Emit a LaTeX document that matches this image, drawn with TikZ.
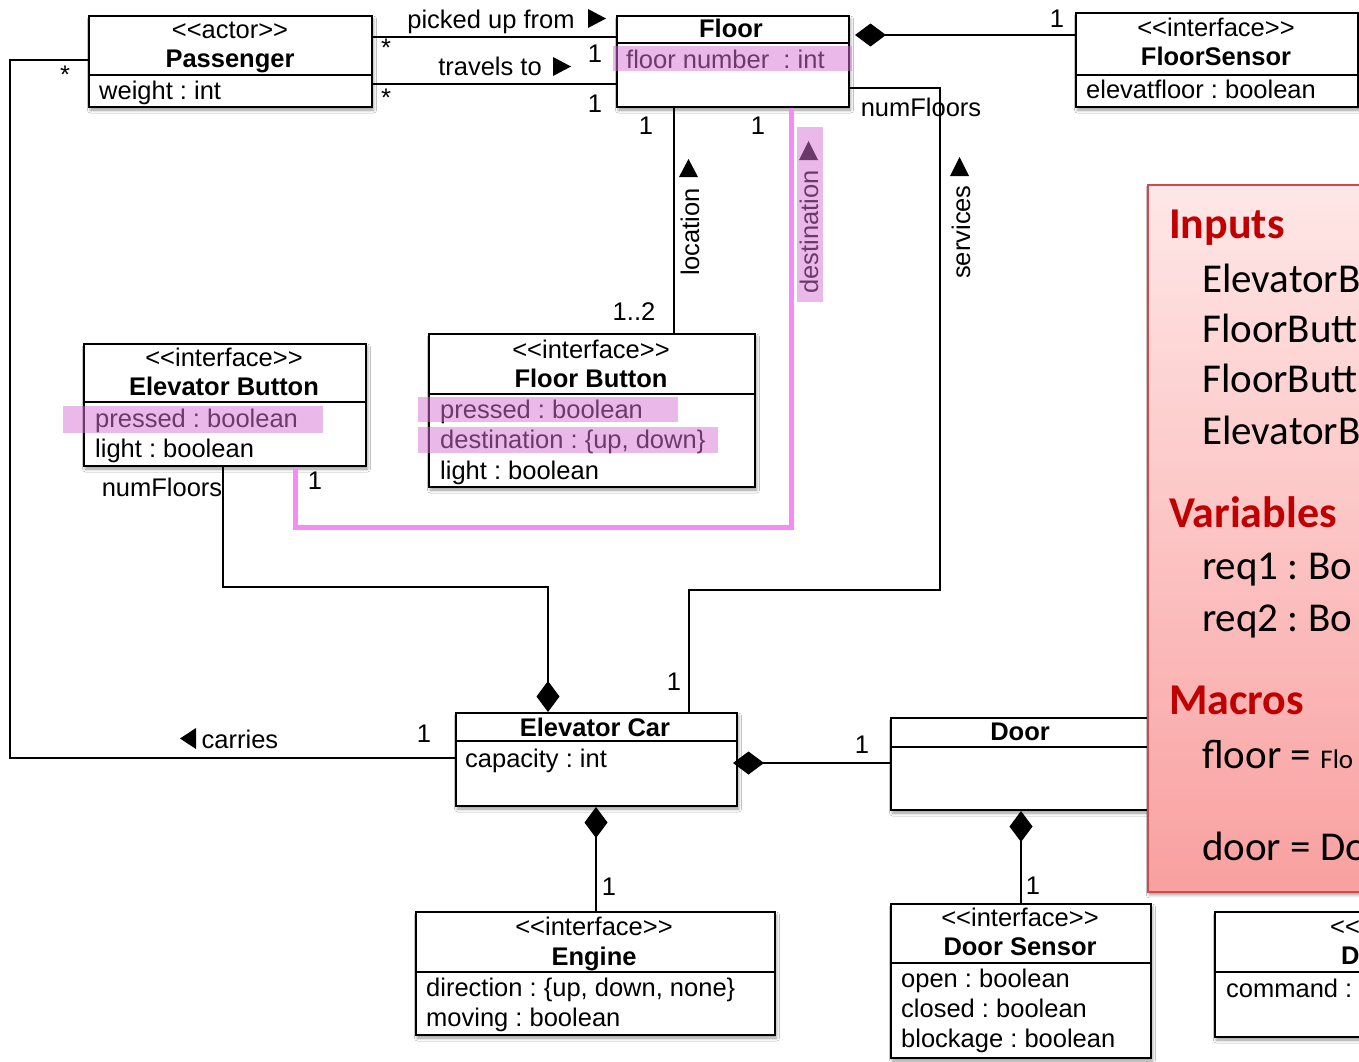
\documentclass[tikz,border=0pt]{standalone}
\usepackage{fontspec}
\setmainfont{Liberation Sans}
\newfontfamily\calib{Carlito}
\usetikzlibrary{shadows.blur,arrows.meta}

\definecolor{hlpink}{RGB}{214,117,214}
\definecolor{pinkline}{RGB}{245,140,245}
\definecolor{notetop}{RGB}{255,231,231}
\definecolor{notebot}{RGB}{249,160,160}
\definecolor{noteedge}{RGB}{205,75,75}
\definecolor{headred}{RGB}{192,0,0}

% class box: name, left, top, right, bottom, y of the compartment line
\newcommand\umlbox[6]{%
  \node[classbox, minimum width=#4pt-#2pt, minimum height=#5pt-#3pt] (#1) at (#2,#3) {};
  \draw[line width=2pt] (#1.west |- 0,#6) -- (#1.east |- 0,#6);
}
\newcommand\stereo[1]{<{}<#1>{}>}

\begin{document}
\frenchspacing
\begin{tikzpicture}[x=1pt,y=-1pt,
  classbox/.style={draw, line width=2pt, fill=white, inner sep=0pt, anchor=north west,
    blur shadow={shadow xshift=1.5pt, shadow yshift=-3pt, shadow blur radius=3pt, shadow opacity=40}},
  conn/.style={line width=1.8pt},
  comp/.style={conn, {Diamond[length=31pt,width=23pt]}-},
  txt/.style={inner sep=0pt, font=\fontsize{25.5}{30}\selectfont, text height=23pt, text depth=5pt},
  attr/.style={txt, anchor=west},
  cname/.style={txt, font=\fontsize{25.5}{30}\selectfont\bfseries},
  hl/.style={fill=hlpink, fill opacity=0.5},
  pinkpath/.style={draw=pinkline, line width=5pt},
  heading/.style={anchor=west, inner sep=0pt, text=headred, font={\fontsize{44}{50}\selectfont\calib\bfseries}},
  item/.style={anchor=west, inner sep=0pt, font={\fontsize{41}{46}\selectfont\calib}},
]
\clip (0,0) rectangle (1359,1061);
\fill[white] (0,0) rectangle (1359,1061);

% ---------- classes ----------
\umlbox{passenger}{88}{15}{371}{106}{75}
\node[txt] at (230,29) {\stereo{actor}};
\node[cname] at (230,58) {Passenger};
\node[attr] at (99,90) {weight : int};

\umlbox{floor}{616}{15}{848}{106}{43}
\node[cname] at (731,28) {Floor};
\node[attr] (floornum) at (626,59) {floor number\ \ : int};

\umlbox{floorsensor}{1075}{12}{1357}{106}{75}
\node[txt] at (1216,27) {\stereo{interface}};
\node[cname] at (1216,56) {FloorSensor};
\node[attr] at (1086,89) {elevatfloor : boolean};

\umlbox{eb}{83}{343}{365}{465}{402}
\node[txt] at (224,357) {\stereo{interface}};
\node[cname] at (224,386) {Elevator Button};
\node[attr] at (95,418) {pressed : boolean};
\node[attr] at (95,448) {light : boolean};

\umlbox{fb}{428}{333}{754}{486}{394}
\node[txt] at (591,349) {\stereo{interface}};
\node[cname] at (591,378) {Floor Button};
\node[attr] at (440,409) {pressed : boolean};
\node[attr] at (440,439) {destination : \{up, down\}};
\node[attr] at (440,470) {light : boolean};

\umlbox{ec}{455}{712}{736}{805}{741}
\node[cname] at (595,727) {Elevator Car};
\node[attr] at (465,758) {capacity : int};

\umlbox{engine}{415}{911}{774}{1034}{972}
\node[txt] at (594,926) {\stereo{interface}};
\node[cname] at (594,956) {Engine};
\node[attr] at (426,987) {direction : \{up, down, none\}};
\node[attr] at (426,1017) {moving : boolean};

\umlbox{door}{890}{717}{1150}{809}{747}
\node[cname] at (1020,731) {Door};

\umlbox{ds}{890}{903}{1150}{1057}{963}
\node[txt] at (1020,917) {\stereo{interface}};
\node[cname] at (1020,946) {Door Sensor};
\node[attr] at (901,978) {open : boolean};
\node[attr] at (901,1008) {closed : boolean};
\node[attr] at (901,1038) {blockage : boolean};

\umlbox{actuator}{1214}{911}{1400}{1036}{972}
\node[attr] at (1330,926) {<{}<};
\node[cname, anchor=west] at (1341,955) {D};
\node[attr] at (1226,988) {command :};

% ---------- associations ----------
\draw[conn] (passenger.east |- 0,37) -- (floor.west |- 0,37);
\draw[conn] (passenger.east |- 0,84) -- (floor.west |- 0,84);
\draw[comp, shorten <=5pt] (floor.east |- 0,35) -- (floorsensor.west |- 0,35);
\draw[conn] (passenger.west |- 0,60) -- (10,60) -- (10,758) -- (ec.west |- 0,758);
\draw[comp] (ec.north -| 548,0) -- (548,587) -- (223,587) -- (eb.south -| 223,0);
\draw[conn] (floor.east |- 0,88) -- (940,88) -- (940,590) -- (689,590) -- (ec.north -| 689,0);
\draw[conn] (floor.south -| 674,0) -- (fb.north -| 674,0);
\draw[pinkpath] (floor.south -| 791,0) -- (791,527) -- (295,527) -- (eb.south -| 295,0);
\draw[comp, shorten <=-5pt] (ec.east |- 0,763) -- (door.west |- 0,763);
\draw[comp] (ec.south -| 596,0) -- (engine.north -| 596,0);
\draw[comp] (door.south -| 1021,0) -- (ds.north -| 1021,0);

% ---------- association labels ----------
\node[txt] at (491,19) {picked up from};
\fill (588,9) -- (606,18.5) -- (588,28) -- cycle;
\node[txt] at (490,66) {travels to};
\fill (553,57) -- (571,66.5) -- (553,76) -- cycle;
\node[txt, rotate=90] at (690,232) {location};
\fill (679,177) -- (688.5,159) -- (698,177) -- cycle;
\node[txt, rotate=90] (destlbl) at (809,232) {destination};
\fill (799,160) -- (808.5,141) -- (818,160) -- cycle;
\node[txt, rotate=90] at (961,232) {services};
\fill (950,176) -- (959.5,157) -- (969,176) -- cycle;
\node[txt] at (240,739) {carries};
\fill (196,728) -- (180,738.5) -- (196,749) -- cycle;
\node[txt] at (921,107) {numFloors};
\node[txt] at (162,487) {numFloors};

% ---------- multiplicities ----------
\node[txt] at (386,47) {*};
\node[txt] at (595,53) {1};
\node[txt] at (386,97) {*};
\node[txt] at (595,103) {1};
\node[txt] at (1057,18) {1};
\node[txt] at (65,74) {*};
\node[txt] at (646,125) {1};
\node[txt] at (758,125) {1};
\node[txt] at (634,311) {1..2};
\node[txt] at (315,480) {1};
\node[txt] at (674,681) {1};
\node[txt] at (424,733) {1};
\node[txt] at (862,744) {1};
\node[txt] at (609,886) {1};
\node[txt] at (1033,885) {1};

% ---------- highlights ----------
\fill[hl] (613,46) rectangle (852,71);
\fill[hl] (63,406) rectangle (323,433);
\fill[hl] (418,397) rectangle (678,422);
\fill[hl] (418,427) rectangle (718,453);
\fill[hl] (797,127) rectangle (823,302);

% ---------- note ----------
\node[draw=noteedge, line width=1.5pt, top color=notetop, bottom color=notebot,
  anchor=north west, minimum width=250pt, minimum height=707pt, inner sep=0pt,
  blur shadow={shadow xshift=1.5pt, shadow yshift=-3pt, shadow blur radius=3pt, shadow opacity=40}]
  (note) at (1147,184) {};
\node[heading] at (1169,228) {Inputs};
\node[item] at (1202,278) {ElevatorB};
\node[item] at (1202,328) {FloorButt};
\node[item] at (1202,378) {FloorButt};
\node[item] at (1202,430) {ElevatorB};
\node[heading] at (1169,512) {Variables};
\node[item] at (1202,570) {req1 : Bo};
\node[item] at (1202,621) {req2 : Bo};
\node[heading] at (1169,700) {Macros};
\node[item] at (1202,755) {floor = {\fontsize{27}{30}\selectfont Flo}};
\node[item] at (1202,846) {door = Do};
\end{tikzpicture}
\end{document}
